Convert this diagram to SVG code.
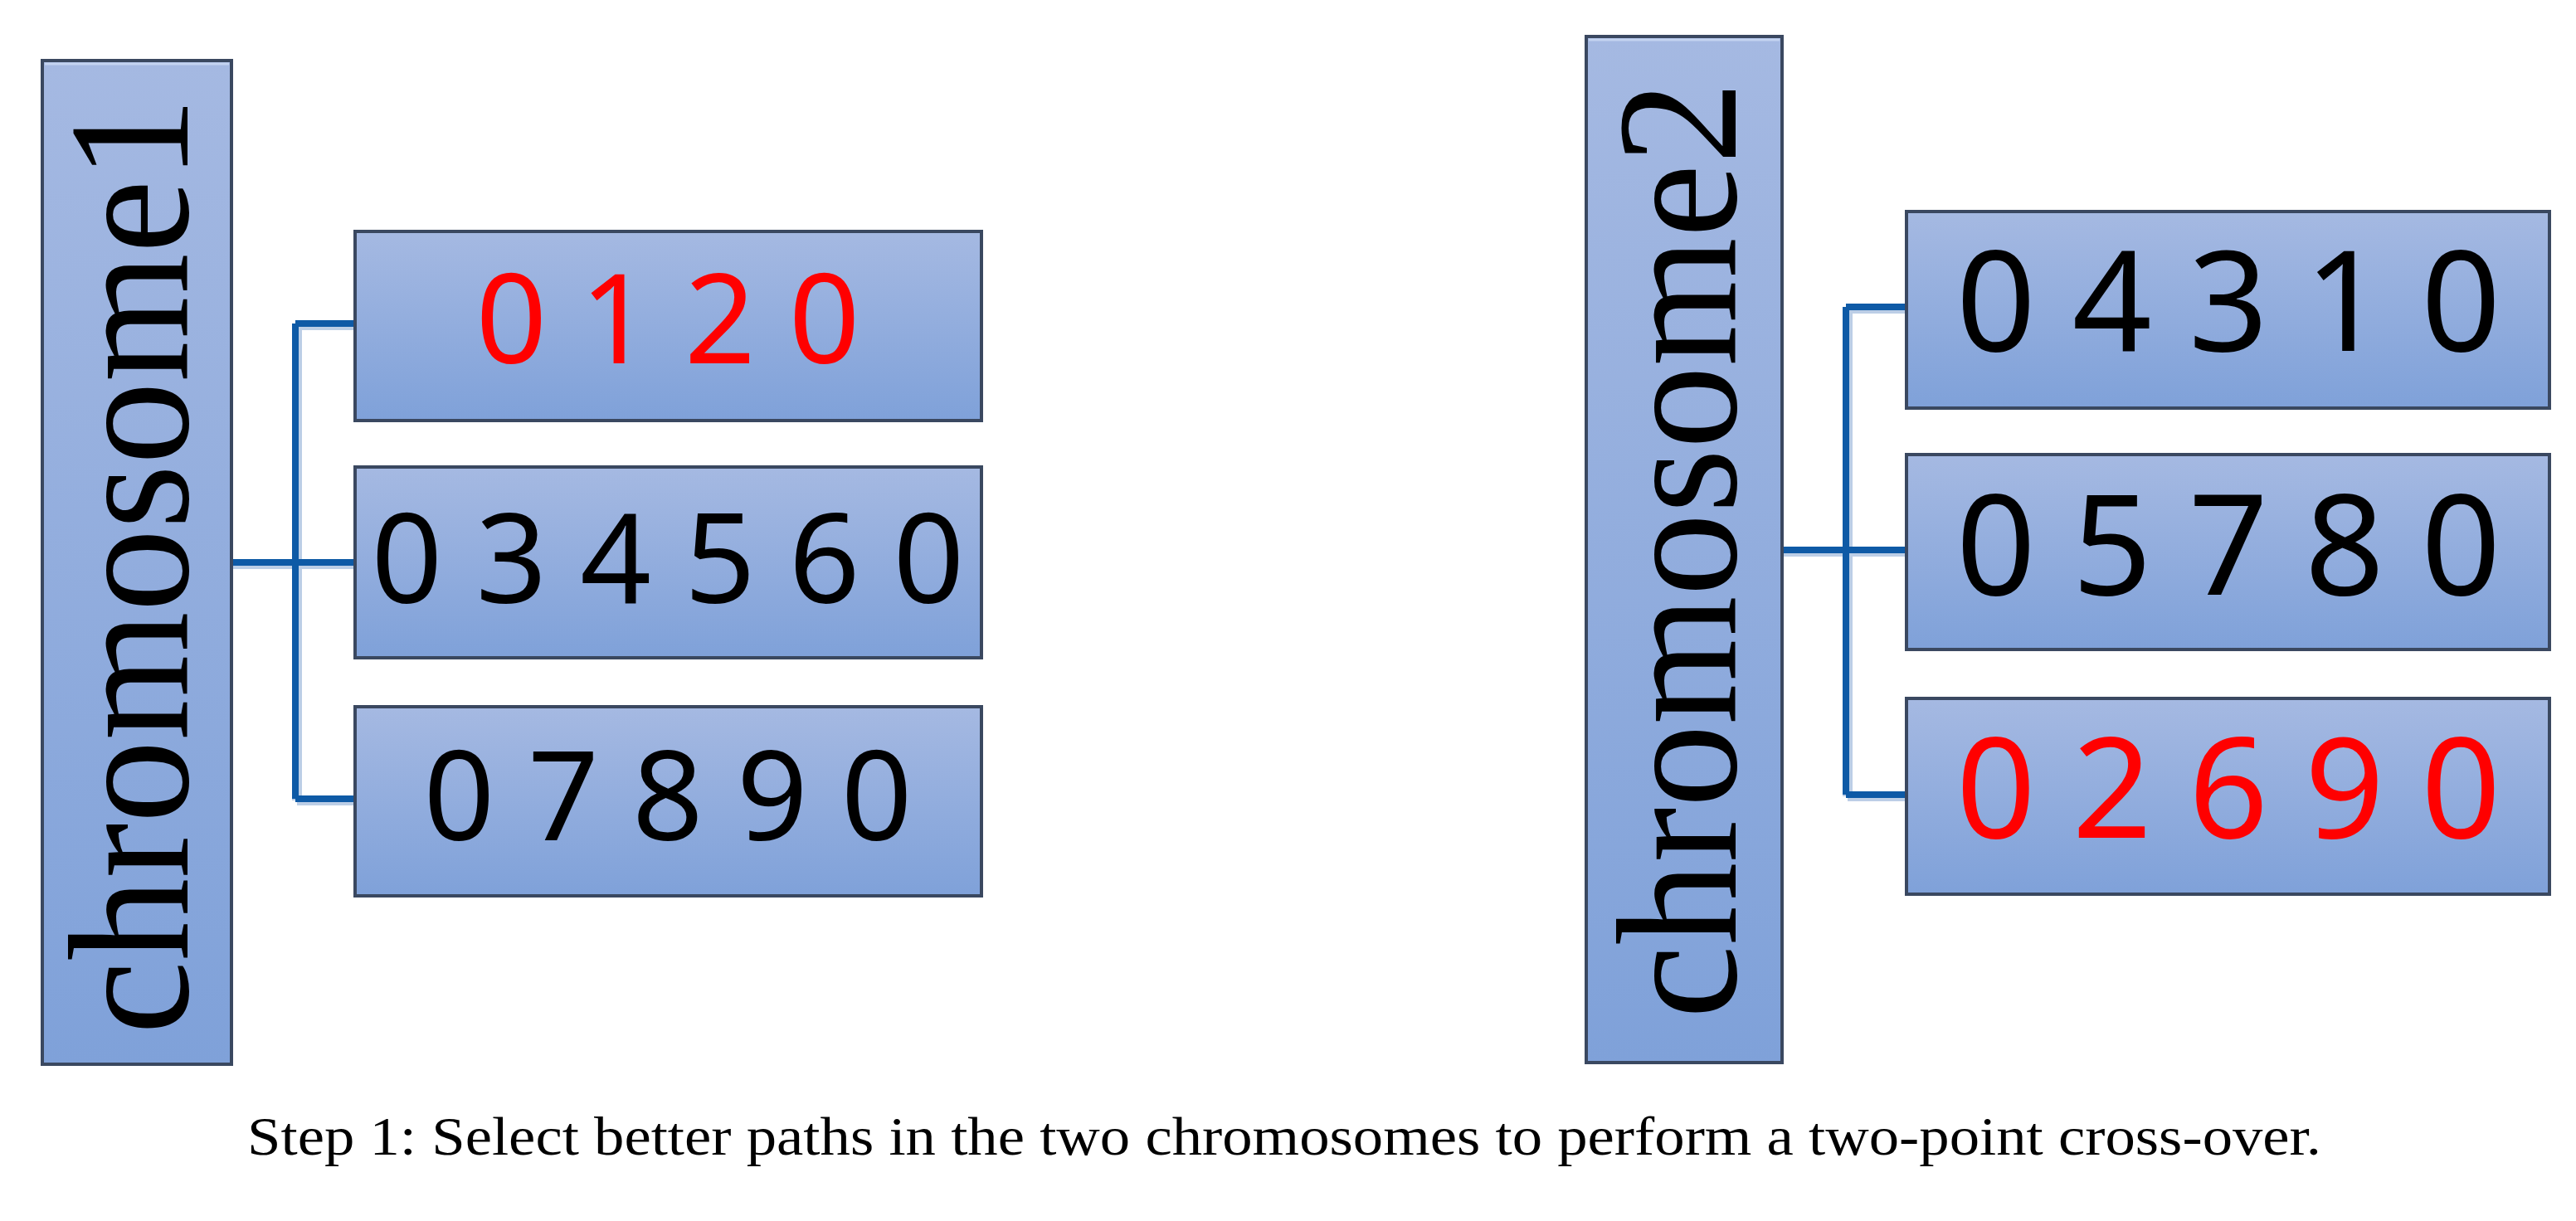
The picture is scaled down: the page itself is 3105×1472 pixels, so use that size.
<svg xmlns="http://www.w3.org/2000/svg" width="3105" height="1472" viewBox="0 0 3105 1472">
  <defs>
    <linearGradient id="boxGrad" x1="0" y1="0" x2="0" y2="1">
      <stop offset="0" stop-color="#A5B9E2"/>
      <stop offset="1" stop-color="#7FA1D9"/>
    </linearGradient>
    <style>
      .box { fill: url(#boxGrad); stroke: #3A4860; stroke-width: 4; }
      .hl { fill: none; stroke: #C3D3F0; stroke-width: 3; }
      .digits { font-family: "Noto Sans", "DejaVu Sans", sans-serif; text-anchor: middle; }
      .dl { font-size: 150px; letter-spacing: 40px; }
      .dr { font-size: 168px; letter-spacing: 44px; }
      .black { fill: #000000; }
      .red { fill: #FF0000; }
      .chrom { font-family: "Liberation Serif", "Times New Roman", serif; font-size: 208px; fill: #000000; }
      .conn { fill: none; stroke: #0E5AA6; stroke-width: 8; stroke-linejoin: miter; }
      .connShade { fill: none; stroke: #8FAED6; stroke-width: 12; stroke-linejoin: miter; opacity: 0.6; }
      .caption { font-family: "Liberation Serif", "Times New Roman", serif; font-size: 66px; fill: #000000; text-anchor: middle; }
    </style>
  </defs>
  <rect x="0" y="0" width="3105" height="1472" fill="#FFFFFF"/>

  <g id="connectors">
    <path class="connShade" d="M279,680 H428 M358,392 V965 M358,392 H428 M358,965 H428"/>
    <path class="conn" d="M279,678 H428 M356,390 V963 M356,390 H428 M356,963 H428"/>
    <path class="connShade" d="M2148,665 H2298 M2227,372 V960 M2227,372 H2298 M2227,960 H2298"/>
    <path class="conn" d="M2148,663 H2298 M2225,370 V958 M2225,370 H2298 M2225,958 H2298"/>
  </g>

  <g id="chromosome1">
    <rect class="box" x="51" y="73" width="228" height="1210"/>
    <line class="hl" x1="54" y1="77" x2="276" y2="77"/>
    <text class="chrom" transform="translate(226,1247) rotate(-90)" textLength="1130" lengthAdjust="spacingAndGlyphs">chromosome1</text>
  </g>

  <g id="c1-gene1">
    <rect class="box" x="428" y="279" width="755" height="228"/>
    <text class="digits dl red" x="825" y="438">0120</text>
  </g>
  <g id="c1-gene2">
    <rect class="box" x="428" y="563" width="755" height="230"/>
    <text class="digits dl black" x="825" y="727">034560</text>
  </g>
  <g id="c1-gene3">
    <rect class="box" x="428" y="852" width="755" height="228"/>
    <text class="digits dl black" x="825" y="1013">07890</text>
  </g>

  <g id="chromosome2">
    <rect class="box" x="1912" y="44" width="236" height="1237"/>
    <line class="hl" x1="1915" y1="48" x2="2145" y2="48"/>
    <text class="chrom" transform="translate(2092,1228) rotate(-90)" textLength="1130" lengthAdjust="spacingAndGlyphs">chromosome2</text>
  </g>

  <g id="c2-gene1">
    <rect class="box" x="2298" y="255" width="775" height="237"/>
    <text class="digits dr black" x="2708" y="423">04310</text>
  </g>
  <g id="c2-gene2">
    <rect class="box" x="2298" y="548" width="775" height="235"/>
    <text class="digits dr black" x="2708" y="717">05780</text>
  </g>
  <g id="c2-gene3">
    <rect class="box" x="2298" y="842" width="775" height="236"/>
    <text class="digits dr red" x="2708" y="1010">02690</text>
  </g>

  <text class="caption" x="1548" y="1392" textLength="2500" lengthAdjust="spacingAndGlyphs">Step 1: Select better paths in the two chromosomes to perform a two-point cross-over.</text>
</svg>
